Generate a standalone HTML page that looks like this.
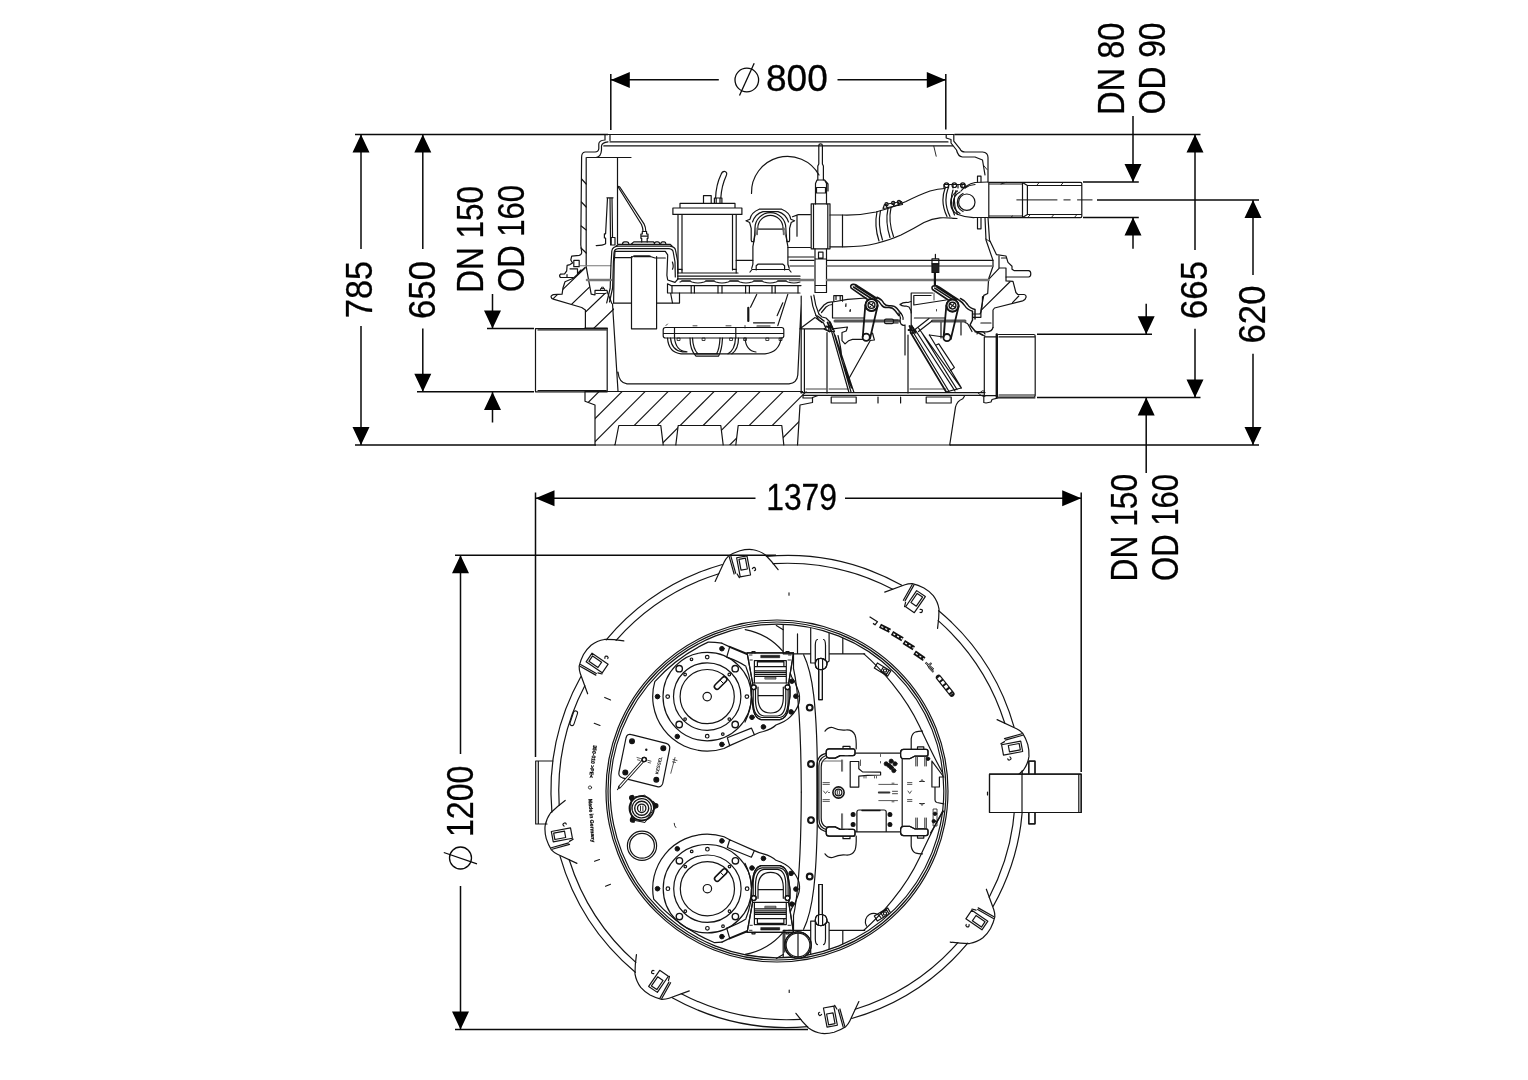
<!DOCTYPE html>
<html><head><meta charset="utf-8"><title>Drawing</title>
<style>
html,body{margin:0;padding:0;background:#fff;}
body{width:1528px;height:1080px;overflow:hidden;font-family:"Liberation Sans",sans-serif;}
svg{display:block;}
svg text{font-family:"Liberation Sans",sans-serif;fill:#000;}
.d{stroke:#0a0a0a;stroke-width:1.5;fill:none;}
.a{fill:#000;stroke:none;}
.g{stroke:#141414;stroke-width:1.2;fill:none;stroke-linejoin:round;stroke-linecap:round;}
.t{stroke:#000;stroke-width:.7;fill:none;stroke-linejoin:round;stroke-linecap:round;}
.w{fill:#fff;}
</style></head><body>
<svg width="1528" height="1080" viewBox="0 0 1528 1080">
<rect width="1528" height="1080" fill="#fff"/>
<g opacity="0.999">
<!-- ===== DIMENSIONS ===== -->
<g id="dims" class="d">
<!-- top / bottom reference lines of side view -->
<path d="M355 134.5H608 M954.5 134.5H1200.5 M355 445H596 M950 445H1259"/>
<!-- 785 -->
<path d="M361 134.5V249 M361 326V445"/>
<!-- 650 -->
<path d="M422.8 134.5V249 M422.8 328.5V391.8 M417 391.8H534"/>
<!-- DN150 left -->
<path d="M487 328.5H534 M492.5 294V328.5 M492.5 392V422.5"/>
<!-- dia 800 -->
<path d="M610.8 74V130 M945.8 74V129.5 M611 79.7H718.8 M837.5 79.7H945.5"/>
<!-- DN80 -->
<path d="M1083 182H1138.8 M1083 217.5H1138.8 M1133 116V182 M1133 217.5V248.8"/>
<path d="M1097 200H1259"/>
<!-- 665 -->
<path d="M1195 134.5V250 M1195 328.8V397.5"/>
<!-- 620 -->
<path d="M1253 200V275 M1253 353.8V445"/>
<!-- DN150 right -->
<path d="M1037 334.2H1152 M1037 397.5H1200.5 M1146.2 303.8V334 M1146.2 397.5V473"/>
<!-- 1379 -->
<path d="M535.5 492.5V757 M1081.2 492.5V772 M535.5 498.2H755.5 M845 498.2H1081"/>
<!-- dia 1200 -->
<path d="M455 555.2H776 M455 1029.5H808 M460.5 555.2V754 M460.5 886V1029.5"/>
</g>
<g id="arrows" class="a">
<!-- vertical arrows: tip up -->
<path d="M361 134.5l-8.5 18h17z M422.8 134.5l-8.5 18h17z M1195 134.5l-8.5 18h17z M1253 200l-8.5 18h17z M460.5 555.2l-8.5 18h17z"/>
<path d="M492.5 392l-8.5 18h17z M1133 217.5l-8.5 18h17z M1146.2 397.5l-8.5 18h17z"/>
<!-- tip down -->
<path d="M361 445l-8.5 -18h17z M422.8 391.8l-8.5 -18h17z M1195 397.5l-8.5 -18h17z M1253 445l-8.5 -18h17z M460.5 1029.5l-8.5 -18h17z"/>
<path d="M492.5 328.5l-8.5 -18h17z M1133 182l-8.5 -18h17z M1146.2 334.2l-8.5 -18h17z"/>
<!-- horizontal -->
<path d="M610.8 80l19 -8v16z M945.8 80l-19 -8v16z M535.5 498.2l19 -8v16z M1081.2 498.2l-19 -8v16z"/>
</g>
<g id="dimtext" font-size="36.7" stroke="#000" stroke-width=".3">
<text x="766" y="91.2" textLength="61.8" lengthAdjust="spacingAndGlyphs">800</text>
<text x="766.2" y="510" textLength="70.8" lengthAdjust="spacingAndGlyphs">1379</text>
<text transform="translate(371.8 318) rotate(-90)" textLength="57" lengthAdjust="spacingAndGlyphs">785</text>
<text transform="translate(434.6 319) rotate(-90)" textLength="58" lengthAdjust="spacingAndGlyphs">650</text>
<text transform="translate(482.5 292.8) rotate(-90)" textLength="106.8" lengthAdjust="spacingAndGlyphs">DN 150</text>
<text transform="translate(524.1 292) rotate(-90)" textLength="107" lengthAdjust="spacingAndGlyphs">OD 160</text>
<text transform="translate(1123.6 115) rotate(-90)" textLength="92.5" lengthAdjust="spacingAndGlyphs">DN 80</text>
<text transform="translate(1164.8 114.2) rotate(-90)" textLength="91.7" lengthAdjust="spacingAndGlyphs">OD 90</text>
<text transform="translate(1206.8 319) rotate(-90)" textLength="58" lengthAdjust="spacingAndGlyphs">665</text>
<text transform="translate(1265 343.5) rotate(-90)" textLength="58" lengthAdjust="spacingAndGlyphs">620</text>
<text transform="translate(1136.8 581.4) rotate(-90)" textLength="107.5" lengthAdjust="spacingAndGlyphs">DN 150</text>
<text transform="translate(1178 581) rotate(-90)" textLength="107" lengthAdjust="spacingAndGlyphs">OD 160</text>
<text transform="translate(472.5 837) rotate(-90)" textLength="71.5" lengthAdjust="spacingAndGlyphs">1200</text>
</g>
<g id="diasym" class="d" style="stroke-width:1.3">
<circle cx="746.8" cy="80" r="11.8"/><path d="M739.5 95.5L754.2 63.2"/>
<circle cx="460.5" cy="858" r="11"/><path d="M443.8 852.5L477 863.8"/>
</g>
<!-- ===== SIDE VIEW ===== -->
<defs>
<clipPath id="cpB"><path clip-rule="evenodd" d="M585 391.5V401.2L595 405V445H797.5L800 405L812.5 402.5V391.5Z M615 445L618.8 425.5H660.8L663.2 445Z M675.8 445L678.2 425.5H720.8L723.2 445Z M735.8 445L738.2 425.5H781.8L783.8 445Z"/></clipPath>
<clipPath id="cpL"><path d="M585 267.5L573.3 278.3L565 281.7L562.9 288.3L562.1 294.2L553.3 294.6L551.2 297.1L553.3 299.2L581.7 307.5L585.4 310V328.3H615L614 308L611.7 303.3L607 292.5L595 295L591.2 294.2L588.3 278.3L585.4 266.7Z"/></clipPath>
</defs>
<g id="sideA" class="g">
<!-- lid -->
<path d="M605 134.5H954 M610 141.9H948 M603.8 145.9H952.5"/>
<!-- left wall outer profile -->
<path d="M605 134.5V140Q599 140.5 598.8 143.8V148.8Q598.5 151.8 595 152H585Q581.6 152.3 581.6 157.5L580.8 245L581.7 252.5Q581.5 255 579.2 255.4L571.7 256.2L570.8 260L572.5 262.9L570 264.6L567.1 265.4L566.7 270.8L564.6 273.8L560.4 274.2Q558.8 275.8 560.4 277.5H573.3"/>
<path d="M573.8 260.4H579.2V266.7H573.8Z M570 268.8H577.5V273.5 M567 277.5V274.5 M577.5 273.5L581 270"/>
<path d="M585 267.5L573.3 278.3L565 281.7L562.9 288.3L562.1 294.2L553.3 294.6Q550.5 296 551.2 297.1Q551.5 298.8 553.3 299.2L581.7 307.5L585.4 310V328.3"/>
<path d="M610 134.5V140.5 M608 141.9Q602 142.5 601.5 146V150Q601 157 596 157.5"/>
<!-- inner wall -->
<path d="M586.2 157.5V266.7L588.3 278.3L591.2 294.2L595 295V290.4H607L607.5 292.5L611.7 303.3 M587 157.5H631 M617.5 157.5V244"/>
<path d="M580 265.8H610.8" stroke="#777" stroke-width="1.1"/>
<path d="M600.5 290.4V288.5H604.5V290.4 M601.5 288.5V287.2H603.5V288.5 M596 293.5H606" stroke-width=".9"/>
<!-- wall hatch ticks -->
<path d="M581.6 179L586.2 184 M581.4 202L586.2 207 M581.2 226L586.2 230 M581 248L586.2 253"/>
<!-- hanging bracket inside left wall -->
<path d="M606.9 197.8H613 M607.5 198L605.6 233.8H604.4V238H605.6V243.8Q603 245.6 596.2 245.6 M610 198L610.6 245 M612 198.8L612.5 233.8V237.5 M611.2 237.5H615V245H611.2Z"/>
<!-- left pipe stub -->
<path d="M535.5 328.6H607.2V391.8H535.5Z M538 330H606 M538 390.5H606" />
<path d="M585 328.2H607.2" stroke-width="1.6"/>
<!-- left flange hatch -->
<g clip-path="url(#cpL)">
<path d="M545 306.5L595 258.5 M553.7 321.5L609.2 268.1 M566 330.7L624 275.2 M574.2 347.1L634.2 289.5"/>
</g>
<!-- bottom block -->
<path d="M585 391.5V401.2L595 405V445 M797.5 445L800 405L812.5 402.5V397.5 M585 391.5H802.5"/>
<path d="M615 445L618.8 425.5H660.8L663.2 445 M675.8 445L678.2 425.5H720.8L723.2 445 M735.8 445L738.2 425.5H781.8L783.8 445"/>
<path d="M596 445H950"/>
<g clip-path="url(#cpB)">
<path d="M576.5 391.2L516.5 451.2"/><path d="M599.5 391.2L539.5 451.2"/><path d="M622.5 391.2L562.5 451.2"/><path d="M645.5 391.2L585.5 451.2"/><path d="M668.5 391.2L608.5 451.2"/><path d="M691.5 391.2L631.5 451.2"/><path d="M714.5 391.2L654.5 451.2"/><path d="M737.5 391.2L677.5 451.2"/><path d="M760.5 391.2L700.5 451.2"/><path d="M783.5 391.2L723.5 451.2"/><path d="M806.5 391.2L746.5 451.2"/><path d="M829.5 391.2L769.5 451.2"/><path d="M852.5 391.2L792.5 451.2"/><path d="M875.5 391.2L815.5 451.2"/>
</g>
<!-- right wall outer profile -->
<path d="M946.2 134.5H953.8V141.2L960 148.8Q961 152 965 152H982.5Q988 152.5 988 157.5V182"/>
<path d="M946.2 134.5V138L951 139.5V143L956.5 150Q958 156.5 962.5 157H975L982.5 160L985 175"/>
<path d="M977.5 182V176.2H981V182 M977.5 217.5V228.8H981V217.5"/>
<path d="M988 217.5L989.5 240L996.4 254.6L1006 256L1008 262.4L1012 266.3V269.2L1014 270.6H1028.5Q1030.8 270.6 1030.8 273.8Q1030.8 277 1028.5 277H1006V280.9L1013 281.3L1015.9 292.5L1017.8 294.5H1024Q1026.5 295 1026 297.4Q1025.5 300 1022.7 300.8L994.5 308L993 310V327.5"/>
<path d="M985 217.5L986 240L993 260.4V266.3L988.6 279L987.7 293.5L983.8 295.4L980.9 310V317.3H973"/>
<path d="M999.3 268.2L989.6 278.4 M1010 281.8L981.8 309.6 M1018.8 296L1012.5 302.7 M999 256V268H1006V277 M1001.5 258H1006"/>
<path d="M993 327.5Q992 331.5 987 331.8H975 M980.9 323H991"/>
<path d="M933.8 146.2L936.2 156.2 M983.8 165.6L987 169.5 M985.7 238.9L990.5 242" stroke-width=".9"/>
<!-- top right pipe -->
<path d="M988.8 182.4H1080.5Q1081.8 182.4 1081.8 183.7V216.3Q1081.8 217.6 1080.5 217.6H988.8Z M1022.5 182.4V217.6 M1022.5 182.4L1027.4 185.5V214.5L1022.5 217.6 M1027.4 185.5H1081.8 M1027.4 214.5H1081.8 M989 184H1022.5 M989 216H1022.5"/>
<path d="M1039.3 182.4L1036.6 185.5 M1063.4 182.4L1060.7 185.5 M1006 182.4L1001 184 M1030.4 214.5L1027.7 217.6 M1053.9 214.5L1051.3 217.6 M1077 214.5L1074.3 217.6 M1012.5 216L1010.5 217.6" stroke-width=".9"/>
<path d="M1016.8 199.9H1057 M1063.9 199.9H1070.2 M1077.5 199.9H1092.1" stroke-width="1"/>
<!-- lower right pipe -->
<path d="M998.5 334.5H1033.7Q1035.2 334.5 1035.2 336V395.5Q1035.2 397 1033.7 397H998.5 M984.3 336.9H996 M984.3 395.6H996 M984.3 336.9V395.6 M999 336.9H1035 M999 395H1035"/>
<path d="M996.8 334.5V397" stroke-width="2.4"/>
</g>
<g id="sideB" class="g">
<!-- pump housing (left box) -->
<path d="M606.7 302.9L610.2 288L611 264.3L611.8 251Q612.5 246.5 618.5 246.2H670Q675 246.8 675.5 250.2L677.5 260.4L677.9 278.5"/>
<path d="M609.5 302L612.6 288L613.4 262L614 253Q614.3 248.8 618.5 248.6H669Q672.8 249 673.2 252L675 262L675.3 277"/>
<path d="M615 251.4H665.3L667.7 254.9L666.9 275.4L667.7 280L675 282.4L678 279 M615 251.4L614.2 262L613.6 303"/>
<path d="M615 257.7H631L633.8 256H648.8L655 258H665.3"/>
<path d="M634.5 256.4H650" stroke-width="1.9"/>
<path d="M631.5 256.5V328.8H656.6V256.5"/>
<path d="M613.6 303.1H631 M657 303.1H679.5V293"/>
<path d="M672.4 262Q674 266.5 672.5 269.2"/>
<!-- bolts / dome on pump housing -->
<path d="M618.5 244.3H670 M631 244.3L633.8 241.9H653.5L655 244.3 M622.4 244.3Q622.6 242 624.5 241.9H627Q628.8 242 629 244.3 M654.3 244.3Q654.5 242 656 241.9H658Q659.6 242 659.8 244.3 M660.6 244.3Q660.8 242 662.3 241.9H664.3Q665.8 242 666 244.3 M616 246.2L618.5 244.3 M670 244.3L672 246"/>
<path d="M641.7 241.9V238.3H640.9V234H642.3V231.5H646.6V234H648V238.3H647.2V241.9 M640.9 236.2H648"/>
<!-- diagonal rod -->
<path d="M617.5 186L641.5 224.5Q643 228 643 231.2 M619.8 187L644 223.8Q645.8 227.5 645.8 231.2 M617.5 186L619.8 187"/>
<!-- motor / control box -->
<path d="M680 203.4H735V208H680Z M672.9 208H741.9V214.4H672.9Z M678 214.4V273 M736.2 214.4V273 M682 214.4V270 M732.5 214.4V270"/>
<path d="M703.5 203.4V195.6H711.2V203.4 M714.4 203.4V198H721.9V203.4 M716.2 198V203.4 M720 198V203.4"/>
<path d="M715.6 198Q716 185 721 174.5Q722.3 171 725 171.5Q727.6 172.5 726.3 175.5Q721.5 186 720.8 198"/>
<path d="M677.5 273H738 M678 269.4H682V273 M732.5 269.4H736.2"/>
<!-- platform -->
<path d="M677.5 276.2H800 M677.5 278.8H800 M671.2 285.6H801 M667.5 293H800 M667.5 283.8V293 M670.6 293L672.5 303 M667.5 283.8L671.2 285.6"/>
<path d="M680 282Q686 279.5 692 282Q698 284 704 282Q710 279.5 716 282Q722 284 728 282Q734 279.5 740 282Q746 284 752 282Q758 279.5 764 282Q770 284 776 282Q782 279.5 788 282Q794 284 800 282"/>
<path d="M672 285.6V293 M691.2 285.6V293 M694.4 285.6V293 M718 285.6V293 M722 285.6V293 M745.6 285.6V293 M749.4 285.6V293 M772 285.6V293 M775.2 285.6V293 M798 285.6V293"/>
<path d="M682 281H690 M706 281H714 M730 281H738 M754 281H762 M778 281H786" stroke-width="1.8" stroke="#444"/>
<!-- arch clamp -->
<path d="M746.2 220.8L750 219.2Q751 212.5 759.2 209.2H781.7Q790 212.5 790.8 219.2L794.6 220.8L791.2 222.5L789.6 228.3V240L789.2 241.7H787L786.2 235"/>
<path d="M746.2 220.8L749.6 222.5L751.2 228.3V240L751.7 241.7H753.8L754.6 235"/>
<path d="M754.6 235L755 228A15.4 15.4 0 0 1 785.8 228L786.2 235"/>
<path d="M757 234.2L757.8 228A12.6 12.6 0 0 1 783 228L783.8 234.2"/>
<path d="M752.5 222Q755 214 763 211.6H778Q786 214 788.5 222"/>
<path d="M755 235L752.9 246.7V264.2L751.7 268.3 M785.8 235L787.9 246.7V264.2L789.2 268.3"/>
<path d="M757.9 229.2H783.8" stroke="#555" stroke-width="1.8"/>
<path d="M755.5 228V235 M757.3 228V234.5 M785.3 228V235 M783.5 228V234.5" stroke="#666" stroke-width="1.4"/>
<path d="M756.2 270V265.8L757.9 264.2H782.9L784.6 265.8V270 M750 272L752 269.5H789L791 272"/>
<!-- big arc -->
<path d="M751.5 193.5A36 36 0 0 1 819 175"/>
<!-- pipe from arch to valve -->
<path d="M736.2 260.3H752.9 M792.5 216.7L798.3 214.6H810.4 M797 215.8V236.2 M787.9 247.5H810.4 M788.3 257H813.8"/>
<!-- valve -->
<path d="M818.8 145.5Q818.8 143.8 820.6 143.8Q822.4 143.8 822.4 145.5V164L823.4 166V180 M818.8 145.5V164L817.8 166V180"/>
<path d="M815.5 204V183.5L817 180H824.5L826.5 183.5V204 M816.5 187.5H825.5V193H816.5Z M824.5 180L828 184V191"/>
<path d="M811.2 203.8H830V248.8H811.2Z M813.5 203.8V248.8 M827.8 203.8V248.8"/>
<path d="M815 248.8V292.5 M826.5 248.8V292.5 M815 259H826.5 M818.5 252.2H823V258H818.5Z M815 285.5H826.5 M815 292.5H826.5"/>
<!-- flange after valve -->
<path d="M830 215H842.5V246.8H830"/>
<!-- sump -->
<path d="M612.5 303.8L618 391 M618 372Q619 383 627 383.8H789Q797 383 797.8 375L801.2 303.8 M801.2 296V328"/>
<!-- lower pump flange and bowl -->
<path d="M665.5 327.5H781.5Q783.8 327.5 783.8 329.8V335.8Q783.8 338 781.5 338H665.5Q663.2 338 663.2 335.8V329.8Q663.2 327.5 665.5 327.5Z M674.5 327.5V338 M735.8 327.5V338 M663.2 333.5H783.8" />
<path d="M667.5 338Q668.5 352.5 681 353.8H765Q779 352.5 781.2 338"/>
<path d="M670.5 338Q671.5 350.5 682.5 351.8H687"/>
<path d="M674.5 338Q676 351 686 351.5 M690 338Q690 350 696 356.2H718.5Q722 350 722.5 338 M692.5 338Q693 349 698 354H716.5Q719.5 349 720 338 M735.5 338Q735 350 728 353.8 M738.5 338Q738.5 349 732 353.8 M745 338Q746 351 756 352 M696 353.8H718"/>
<path d="M677.5 338H680V340.5H677.5Z M702.5 338H705V340.5H702.5Z M730 338H732.5V340.5H730Z M744 338H746.5V340.5H744Z M766.2 338H768.8V340.5H766.2Z M779.5 338H782V340.5H779.5Z" stroke-width=".8"/>
<!-- funnel lines -->
<path d="M756.7 294.4L750.5 307.2 M787.8 294.4L777.8 325.6 M782.8 302.8L777.2 315.6 M753.5 322.8H774.5 M757 326H770"/>
<path d="M748.3 307.8V321" stroke-width="2.2"/>
<path d="M666 325.5L667.5 324 M693 325.8H697 M726 325.8H731 M745 325.5V328" stroke-width=".8"/>
</g>
<g id="sideC" class="g">
<!-- long horizontal lines -->
<path d="M790 260.3H814 M827 260.3H993"/>
<path d="M790 266H814 M827 266H993" stroke="#666" stroke-width="1.5"/>
<path d="M790 280H814 M827 280H988.6 M587 280H611" stroke="#777" stroke-width="2.6"/>
<!-- hose -->
<path d="M842.5 215Q860 215.5 876 212Q892 208 906 201.5Q920 194.5 930 191Q938 188.8 945 188.5"/>
<path d="M842.5 246.8Q862 247 876 243.5Q890 240 901 235Q914 228.5 924 222.5Q932 218.5 940 217.8Q946 217.5 957 218.5"/>
<!-- clamp 1 -->
<path d="M877 211.5Q874 226 879 241 M880.5 210.5Q877.5 225 882.5 240 M888 208.5Q885 222 890 237.5 M891 207.5Q888 221 893.5 236.5"/>
<path d="M883 208.5L884.5 204.5L901.5 201.5L902.5 204.5Z M886 204L887 208 M893 203L894 206.5 M898 202L899 205.5"/>
<circle cx="886.5" cy="204.2" r="1.6"/><circle cx="893.2" cy="203" r="1.6"/><circle cx="899" cy="202" r="1.6"/>
<!-- clamp 2 / elbow -->
<path d="M945 188.5Q940 202 947 216.5 M948 188.5Q943 202 950 216.5 M953 190Q949 202 954.5 215 M956 190.5Q952 202 957.5 214.5"/>
<path d="M944 188V184.5H965V188 M948.5 184.5V188 M953 184.5V188 M958 184.5V188 M962 184.5V188"/>
<circle cx="946.5" cy="185.2" r="2.3"/><circle cx="954.3" cy="185.2" r="2.3"/><circle cx="962.8" cy="185.2" r="2.3"/>
<circle cx="966.8" cy="202.2" r="8.2"/>
<path d="M963 193.5A10 10 0 0 0 963 211.5 M960 192A12 12 0 0 0 960 213.5 M957.5 191A13.5 13.5 0 0 0 957.5 214.5"/>
<path d="M961 191Q966 184.5 975 182.5L988 182 M958 214.5Q966 217.8 975 217.5H988 M965 188Q969 185 975 184.5"/>
<!-- sensor -->
<path d="M935.4 254.4V258.8 M932 258.8H938.8V263.8H932Z M935.4 272.5V286 M934.4 272.5V286"/>
<path d="M932 263.8H938.8V272.5H932Z" fill="#222"/>
<!-- backflow housing left part -->
<path d="M813.8 295Q815 305 818.8 313.8 M811 296Q812 306 816 315.5 M800 328.8L815 317.5 M800 328.8H825 M801.2 328.8V393 M804.4 328.8V393 M827 332.5V393"/>
<path d="M818.8 313.8L822 317L826 318L830.5 322.5L833 329 M816 315.5L819 320L823.5 323L826 328.8"/>
<path d="M819 311L824 305Q828 301.5 832.5 302 M821.5 312.5L826 307Q829 304.5 832.5 304.5"/>
<!-- housing 1 -->
<path d="M833.8 301.2V295.6H842.5V301.2 M836 295.6V299.5 M840.2 295.6V299.5"/>
<path d="M832.5 302L847.5 299.4L866.2 298 M832.5 302V318H864"/><path d="M835 320.9H899" stroke="#555" stroke-width="3"/>
<path d="M846 303.5V305 M850.5 309.5V311" stroke-width=".8"/>
<!-- locking arm 1 -->
<path stroke-width="1.6" d="M851.2 288.2Q849.6 285 853 284.4Q855.5 284 857.5 285.8L877 298.5 M851.2 288.2L869 300.5 M853.5 287L872 299 M855.5 285.8L874.5 298.2"/>
<!-- cover wavy 1 -->
<path stroke-width="1.5" d="M875 298.8Q879.5 301 881.5 305Q883.5 308 888 307.5Q892.5 307 895 310.5L898.8 315.5 M877 297.2Q882 299.5 884 303.5Q886 306.2 890 305.8Q894.5 305.5 897 308.5L901 313.5"/>
<!-- lever 1 -->
<circle cx="871.5" cy="305" r="6.2" class="w"/>
<path d="M865.3 305.5L862.8 336.5 M877.6 306L870 338.5" stroke-width="1.8"/>
<circle cx="871.5" cy="305" r="6" stroke-width="2"/><circle cx="871.5" cy="305" r="3.4" stroke-width="1.4"/>
<path d="M868.5 303L874.5 307 M869.5 307.5L873.5 302.5"/>
<circle cx="866.2" cy="337.2" r="3.6" stroke-width="1.8"/>
<!-- curvy shape under housing 1 -->
<path d="M832.5 328.8L847.5 327L846.2 331L842 332.5V340.6L845 343.8Q848.5 340 852.5 339.4H862.5 M870 340.5L874.4 340L872.5 333"/>
<path d="M870 341L848.8 378.8"/>
<!-- flap 1 -->
<path d="M831.2 330L848.8 392 M833.5 331.5L851 392 M835 335L853.8 392 M838 335.5Q841 348 841.5 355Q841 360 843.5 365L851.5 388"/>
<path d="M828.5 326.5Q830 324.5 832 326.5L834.5 331.5H829Z"/>
<path d="M827.5 322.5L831 330.5 M829.5 322L833 329.5 M826 326.5L831.5 327.5 M824.5 329L829.5 331.5" stroke-width="1.8"/>
<path d="M909.5 326L913 333 M911.5 325.5L915 332 M908.5 330L913.5 330.5" stroke-width="1.8"/>
<path d="M816 318L822 322.5 M817.5 316L824 321" stroke-width="1.5"/>
<path d="M845.8 304.8V306.5 M850 310V311.5" stroke-width="1.2"/>
<!-- middle junction -->
<path d="M898.8 313L900.5 318Q899.5 321 901 324Q903 326 905 325 M901 313.5Q903.5 316 903 319.5 M905 325V355 M908 335V393"/>
<path d="M884.5 320.8Q884.5 319.2 886 319.2H892Q893.5 319.2 893.5 320.8V322Q893.5 323.6 892 323.6H886Q884.5 323.6 884.5 322Z M893.5 320H898 M893.5 323H898" />
<!-- housing 2 -->
<path d="M911.2 293H932.5 M911.2 293V328.8 M913.8 295.5H931 M913.8 295.5V305L946.2 300 M914.4 318H945"/><path d="M932.5 320.9H965" stroke="#555" stroke-width="3"/>
<path d="M900 304.5Q903 302 908 302.5L911 301.5 M900 304.5Q902 306.5 906 306L909 307Q911.5 311 911.2 313"/>
<path d="M934 293V300 M936.5 309.5V311" stroke-width=".8"/>
<!-- locking arm 2 -->
<path stroke-width="1.6" d="M932.5 289.5Q931 286.3 934.3 285.7Q937 285.3 939 287L958 299.5 M932.5 289.5L950.5 301.5 M934.8 288.2L953.5 300.2 M936.8 287L956 299.5"/>
<!-- lever 2 -->
<circle cx="952.5" cy="305.6" r="6.2" class="w"/>
<path d="M946.3 306L943.6 337 M958.6 306.5L950.8 339" stroke-width="1.8"/>
<circle cx="952.5" cy="305.6" r="6" stroke-width="2"/><circle cx="952.5" cy="305.6" r="3.4" stroke-width="1.4"/>
<path d="M949.5 303.6L955.5 307.6 M950.5 308L954.5 303"/>
<circle cx="947" cy="337.6" r="3.6" stroke-width="1.8"/>
<!-- cover wavy 2 -->
<path stroke-width="1.5" d="M958.8 300Q963 302.5 965 306Q967 309.5 972.5 311.2V320L970 325L975 331L982.5 335 M960.5 298.5Q965 300.5 967.5 304.5Q969.5 308 975 309.5V319"/>
<path d="M972.5 314H980Q982.5 311 982.5 296.5 M965 322.5Q968 323 969 326L972 331.5"/>
<!-- flap 2 (open) -->
<path d="M910.6 332.5L946.2 392" stroke-width="1.7"/>
<path d="M913 332L949 391.5 M915 329.5L955 391 M918.5 328L961.2 388 M929.4 335L961.2 387.5 M922 333L957 389.5"/>
<path d="M915 329.5L929 318.5 M918.5 331.5L932 321 M929.4 335L943.6 337"/>
<path d="M936.2 345L938.8 343.8L954.4 367.5L950.6 370.6 M946.2 392L961.2 388"/>
<path d="M910 328Q911.5 326 913.5 328L916 333H910.5Z"/>
<!-- verticals right of lever 2 -->
<path d="M941 322.5V338 M944.5 322.5V333 M961 322.5V335"/>
<!-- bottom of valve body -->
<path d="M801 392.6H985 M803 395.4H984 M831.2 397H856.2V403H831.2Z M926.2 397H951.2V403H926.2Z M878 397V403 M900.6 397V403 M812.5 397.5L818 395.5 M803 395V398H812"/>
<path d="M910 389H946 M806 389H826 M829 389H848" stroke-width=".8"/>
<path d="M978 393L982 396L985 396.5 M984.5 391Q982 390 980.5 392" stroke-width=".9"/>
<!-- right side lower connection -->
<path d="M949.7 445L955.5 407.2Q957 401 962.8 398.8L964.4 396.2 M983.8 395.7V402.5L986 403L991 402L992 399.5L998.4 397.8H1035"/>
<path d="M985 334Q984 331.5 981.5 331.5H978L977 334 M982.5 335L985 336"/>
</g>
<!-- ===== TOP VIEW ===== -->
<g id="topA" class="g">
<path d="M766.4 556.4A236 236 0 0 1 901.8 585.3"/><path d="M773.1 563.7A228.2 228.2 0 0 1 892.7 589.3"/><path d="M938.7 610.7A236 236 0 0 1 1014.0 726.8"/><path d="M938.2 620.6A228.2 228.2 0 0 1 1004.8 723.3"/><path d="M1022.1 770.9A236 236 0 0 1 993.2 906.3"/><path d="M1014.8 777.6A228.2 228.2 0 0 1 989.2 897.2"/><path d="M967.8 943.2A236 236 0 0 1 851.7 1018.5"/><path d="M957.9 942.7A228.2 228.2 0 0 1 855.2 1009.3"/><path d="M807.6 1026.6A236 236 0 0 1 672.2 997.7"/><path d="M800.9 1019.3A228.2 228.2 0 0 1 681.3 993.7"/><path d="M635.3 972.3A236 236 0 0 1 560.0 856.2"/><path d="M635.8 962.4A228.2 228.2 0 0 1 569.2 859.7"/><path d="M551.9 812.1A236 236 0 0 1 580.8 676.7"/><path d="M559.2 805.4A228.2 228.2 0 0 1 584.8 685.8"/><path d="M606.2 639.8A236 236 0 0 1 722.3 564.5"/><path d="M616.1 640.3A228.2 228.2 0 0 1 718.8 573.7"/>
<g transform="translate(787 791.5) rotate(-10.6)"><path d="M-32 -219.7L-19.5 -237.2Q-17.6 -239.9 -14 -242.3Q-8.5 -244.5 -2 -245.3Q4.3 -245.8 10 -244.3Q17 -242 22.35 -236.45Q27.5 -229 32.05 -219.7"/>
<path d="M-13.6 -241.5L-12 -223.5 M-11.9 -242L-10.3 -224" stroke-width="1.2"/>
<path d="M-6.5 -239H4V-219.5H-6.5Z M-4.5 -237H2V-226H-4.5Z M-9 -223L-7.5 -219 M7 -225.5Q9.5 -227.5 10 -224.5Q10 -223 8.5 -223"/></g>
<g transform="translate(787 791.5) rotate(34.4)"><path d="M-32 -219.7L-19.5 -237.2Q-17.6 -239.9 -14 -242.3Q-8.5 -244.5 -2 -245.3Q4.3 -245.8 10 -244.3Q17 -242 22.35 -236.45Q27.5 -229 32.05 -219.7"/>
<path d="M-13.6 -241.5L-12 -223.5 M-11.9 -242L-10.3 -224" stroke-width="1.2"/>
<path d="M-6.5 -239H4V-219.5H-6.5Z M-4.5 -237H2V-226H-4.5Z M-9 -223L-7.5 -219 M7 -225.5Q9.5 -227.5 10 -224.5Q10 -223 8.5 -223"/></g>
<g transform="translate(787 791.5) rotate(79.4)"><path d="M-32 -219.7L-19.5 -237.2Q-17.6 -239.9 -14 -242.3Q-8.5 -244.5 -2 -245.3Q4.3 -245.8 10 -244.3Q17 -242 22.35 -236.45Q27.5 -229 32.05 -219.7"/>
<path d="M-13.6 -241.5L-12 -223.5 M-11.9 -242L-10.3 -224" stroke-width="1.2"/>
<path d="M-6.5 -239H4V-219.5H-6.5Z M-4.5 -237H2V-226H-4.5Z M-9 -223L-7.5 -219 M7 -225.5Q9.5 -227.5 10 -224.5Q10 -223 8.5 -223"/></g>
<g transform="translate(787 791.5) rotate(124.4)"><path d="M-32 -219.7L-19.5 -237.2Q-17.6 -239.9 -14 -242.3Q-8.5 -244.5 -2 -245.3Q4.3 -245.8 10 -244.3Q17 -242 22.35 -236.45Q27.5 -229 32.05 -219.7"/>
<path d="M-13.6 -241.5L-12 -223.5 M-11.9 -242L-10.3 -224" stroke-width="1.2"/>
<path d="M-6.5 -239H4V-219.5H-6.5Z M-4.5 -237H2V-226H-4.5Z M-9 -223L-7.5 -219 M7 -225.5Q9.5 -227.5 10 -224.5Q10 -223 8.5 -223"/></g>
<g transform="translate(787 791.5) rotate(169.4)"><path d="M-32 -219.7L-19.5 -237.2Q-17.6 -239.9 -14 -242.3Q-8.5 -244.5 -2 -245.3Q4.3 -245.8 10 -244.3Q17 -242 22.35 -236.45Q27.5 -229 32.05 -219.7"/>
<path d="M-13.6 -241.5L-12 -223.5 M-11.9 -242L-10.3 -224" stroke-width="1.2"/>
<path d="M-6.5 -239H4V-219.5H-6.5Z M-4.5 -237H2V-226H-4.5Z M-9 -223L-7.5 -219 M7 -225.5Q9.5 -227.5 10 -224.5Q10 -223 8.5 -223"/></g>
<g transform="translate(787 791.5) rotate(214.4)"><path d="M-32 -219.7L-19.5 -237.2Q-17.6 -239.9 -14 -242.3Q-8.5 -244.5 -2 -245.3Q4.3 -245.8 10 -244.3Q17 -242 22.35 -236.45Q27.5 -229 32.05 -219.7"/>
<path d="M-13.6 -241.5L-12 -223.5 M-11.9 -242L-10.3 -224" stroke-width="1.2"/>
<path d="M-6.5 -239H4V-219.5H-6.5Z M-4.5 -237H2V-226H-4.5Z M-9 -223L-7.5 -219 M7 -225.5Q9.5 -227.5 10 -224.5Q10 -223 8.5 -223"/></g>
<g transform="translate(787 791.5) rotate(259.4)"><path d="M-32 -219.7L-19.5 -237.2Q-17.6 -239.9 -14 -242.3Q-8.5 -244.5 -2 -245.3Q4.3 -245.8 10 -244.3Q17 -242 22.35 -236.45Q27.5 -229 32.05 -219.7"/>
<path d="M-13.6 -241.5L-12 -223.5 M-11.9 -242L-10.3 -224" stroke-width="1.2"/>
<path d="M-6.5 -239H4V-219.5H-6.5Z M-4.5 -237H2V-226H-4.5Z M-9 -223L-7.5 -219 M7 -225.5Q9.5 -227.5 10 -224.5Q10 -223 8.5 -223"/></g>
<g transform="translate(787 791.5) rotate(304.4)"><path d="M-32 -219.7L-19.5 -237.2Q-17.6 -239.9 -14 -242.3Q-8.5 -244.5 -2 -245.3Q4.3 -245.8 10 -244.3Q17 -242 22.35 -236.45Q27.5 -229 32.05 -219.7"/>
<path d="M-13.6 -241.5L-12 -223.5 M-11.9 -242L-10.3 -224" stroke-width="1.2"/>
<path d="M-6.5 -239H4V-219.5H-6.5Z M-4.5 -237H2V-226H-4.5Z M-9 -223L-7.5 -219 M7 -225.5Q9.5 -227.5 10 -224.5Q10 -223 8.5 -223"/></g>
<circle cx="777" cy="791" r="171"/><circle cx="777" cy="791" r="169"/><circle cx="777" cy="791" r="166.8"/>
</g>
<g id="topB" class="g">
<g>
<path d="M721.9 643.2Q714 642 708.2 642.1A164 164 0 0 0 654.8 681.6A54.5 54.5 0 0 0 707.2 751.1Q716 751 724 748.5L729.7 745.6"/>
<path d="M729.7 646.9L747.1 654" stroke-width="2"/><path d="M726.7 657.1L729.7 646.9 M726.7 657.1Q738 661 745.9 666.2 M721.9 643.2L729.7 646.9"/>
<path d="M727.3 737.8L751.4 728.1 M729.7 745.6L754.4 734.7 M727.3 737.8L729.7 745.6 M751.4 728.1L754.4 734.7"/>
<path d="M754.4 734.7Q760 732 763.4 731.5Q772 729 776 725Q786 721.5 790.5 716.7Q797 710 799 703Q800.5 696 798 690Q796 683 791.7 677L789 670"/>
<path d="M746 667Q752 682 751.5 697Q751 710 745 722"/>
<circle cx="721.9" cy="648.7" r="2.3" fill="#111" stroke-width="1"/><circle cx="657.5" cy="696.6" r="2.3" fill="#111" stroke-width="1"/><circle cx="677.3" cy="736.5" r="2.3" fill="#111" stroke-width="1"/><circle cx="721.9" cy="744.4" r="2.3" fill="#111" stroke-width="1"/><circle cx="752" cy="717.3" r="2.3" fill="#111" stroke-width="1"/><circle cx="763.4" cy="726.9" r="2.3" fill="#111" stroke-width="1"/><circle cx="791.1" cy="711.9" r="2.3" fill="#111" stroke-width="1"/><circle cx="795.9" cy="696.2" r="2.3" fill="#111" stroke-width="1"/><circle cx="791.9" cy="681.2" r="2.3" fill="#111" stroke-width="1"/>
<path class="w" d="M747.1 652.9H793.5L788.7 683Q790.5 690 790 696L788 710Q786.5 718 780 719.7H761Q755 718 753.4 710L751.5 696Q751 690 752.6 683Z"/>
<path d="M747.1 652.9H793.5L788.7 683Q790.5 690 790 696L788 710Q786.5 718 780 719.7H761Q755 718 753.4 710L751.5 696Q751 690 752.6 683Z"/>
<path d="M752 652.9V651.5H755V652.9 M786 652.9V651.5H789V652.9"/>
<path d="M761 655.3H779.7V657.7H761Z" fill="#222" stroke-width=".6"/>
<path d="M749.5 655H752 M749.8 660H752.3 M788.5 655H791 M788 660H790.5" stroke-width=".9"/>
<path d="M754.4 683V660.7H786.3V683 M757.4 661.9H783.9V666.7H757.4Z M754.4 666.7H786.3 M754.4 670.9H786.3 M754.4 672.7H786.3 M754.4 674.5H786.3 M754.4 676.4H786.3"/>
<path d="M765.2 677.2H776V679.1H765.2Z" fill="#999" stroke-width=".6"/>
<path d="M753.2 686V702Q753.5 716.5 762 717.5H779.5Q787.5 716.5 788.1 702V686"/>
<path d="M758 687V698.5Q758.5 713 770.6 713Q782.8 713 783.3 698.5V687 M758.2 695.6H783.1"/>
<path d="M755.5 688V701Q756 715 764 716H777.5Q785.5 715 785.8 701V688"/>
<circle cx="753.8" cy="687.2" r="2.4" class="w"/><circle cx="753.8" cy="687.2" r="2.4"/>
<circle cx="787.5" cy="687.2" r="2.4" class="w"/><circle cx="787.5" cy="687.2" r="2.4"/>
<path d="M752.6 683H788.7"/>
</g>
<g transform="translate(0 1585.3) scale(1 -1)">
<path d="M721.9 643.2L714.7 642.6A164 164 0 0 0 653.7 686.2A54.5 54.5 0 0 0 707.2 751.1Q716 751 724 748.5L729.7 745.6"/>
<path d="M729.7 646.9L747.1 654" stroke-width="2"/><path d="M726.7 657.1L729.7 646.9 M726.7 657.1Q738 661 745.9 666.2 M721.9 643.2L729.7 646.9"/>
<path d="M727.3 737.8L751.4 728.1 M729.7 745.6L754.4 734.7 M727.3 737.8L729.7 745.6 M751.4 728.1L754.4 734.7"/>
<path d="M754.4 734.7Q760 732 763.4 731.5Q772 729 776 725Q786 721.5 790.5 716.7Q797 710 799 703Q800.5 696 798 690Q796 683 791.7 677L789 670"/>
<path d="M746 667Q752 682 751.5 697Q751 710 745 722"/>
<circle cx="721.9" cy="648.7" r="2.3" fill="#111" stroke-width="1"/><circle cx="657.5" cy="696.6" r="2.3" fill="#111" stroke-width="1"/><circle cx="677.3" cy="736.5" r="2.3" fill="#111" stroke-width="1"/><circle cx="721.9" cy="744.4" r="2.3" fill="#111" stroke-width="1"/><circle cx="752" cy="717.3" r="2.3" fill="#111" stroke-width="1"/><circle cx="763.4" cy="726.9" r="2.3" fill="#111" stroke-width="1"/><circle cx="791.1" cy="711.9" r="2.3" fill="#111" stroke-width="1"/><circle cx="795.9" cy="696.2" r="2.3" fill="#111" stroke-width="1"/><circle cx="791.9" cy="681.2" r="2.3" fill="#111" stroke-width="1"/>
<path class="w" d="M747.1 652.9H793.5L788.7 683Q790.5 690 790 696L788 710Q786.5 718 780 719.7H761Q755 718 753.4 710L751.5 696Q751 690 752.6 683Z"/>
<path d="M747.1 652.9H793.5L788.7 683Q790.5 690 790 696L788 710Q786.5 718 780 719.7H761Q755 718 753.4 710L751.5 696Q751 690 752.6 683Z"/>
<path d="M752 652.9V651.5H755V652.9 M786 652.9V651.5H789V652.9"/>
<path d="M761 655.3H779.7V657.7H761Z" fill="#222" stroke-width=".6"/>
<path d="M749.5 655H752 M749.8 660H752.3 M788.5 655H791 M788 660H790.5" stroke-width=".9"/>
<path d="M754.4 683V660.7H786.3V683 M757.4 661.9H783.9V666.7H757.4Z M754.4 666.7H786.3 M754.4 670.9H786.3 M754.4 672.7H786.3 M754.4 674.5H786.3 M754.4 676.4H786.3"/>
<path d="M765.2 677.2H776V679.1H765.2Z" fill="#999" stroke-width=".6"/>
<path d="M753.2 686V702Q753.5 716.5 762 717.5H779.5Q787.5 716.5 788.1 702V686"/>
<path d="M758 687V698.5Q758.5 713 770.6 713Q782.8 713 783.3 698.5V687 M758.2 695.6H783.1"/>
<path d="M755.5 688V701Q756 715 764 716H777.5Q785.5 715 785.8 701V688"/>
<circle cx="753.8" cy="687.2" r="2.4" class="w"/><circle cx="753.8" cy="687.2" r="2.4"/>
<circle cx="787.5" cy="687.2" r="2.4" class="w"/><circle cx="787.5" cy="687.2" r="2.4"/>
<path d="M752.6 683H788.7"/>
</g>
<circle cx="707.2" cy="696.6" r="4.2"/><circle cx="707.2" cy="696.6" r="27.1"/><circle cx="707.2" cy="696.6" r="33.7"/><circle cx="707.2" cy="696.6" r="44.2"/><circle cx="679.2" cy="668.7" r="3.2" stroke-width="1.4"/><circle cx="735.2" cy="668.7" r="3.2" stroke-width="1.4"/><circle cx="679.2" cy="724.5" r="3.2" stroke-width="1.4"/><circle cx="735.2" cy="724.5" r="3.2" stroke-width="1.4"/><circle cx="707.2" cy="657.1" r="1.8"/><circle cx="667.7" cy="696.6" r="1.8"/><circle cx="746.9" cy="696.6" r="1.8"/><circle cx="707.2" cy="736.2" r="1.8"/><circle cx="691.5" cy="659.3" r="1.3" stroke-width="1.2"/><circle cx="685.1" cy="674.5" r="1.3" stroke-width="1.2"/><circle cx="729.3" cy="674.5" r="1.3" stroke-width="1.2"/><circle cx="685.1" cy="719.1" r="1.3" stroke-width="1.2"/><circle cx="729.3" cy="719.1" r="1.3" stroke-width="1.2"/><circle cx="722.8" cy="734.1" r="1.3" stroke-width="1.2"/><path d="M717.0 686.6L724.3 679.4" stroke-width="6.8" stroke="#111"/><path d="M717.0 686.6L724.3 679.4" stroke-width="3.6" stroke="#fff"/><path d="M720.4 680.4L723.4 683.4" stroke-width="1"/>
<circle cx="707.4" cy="888.7" r="4.2"/><circle cx="707.4" cy="888.7" r="27.1"/><circle cx="707.4" cy="888.7" r="33.7"/><circle cx="707.4" cy="888.7" r="44.2"/><circle cx="679.4" cy="860.8" r="3.2" stroke-width="1.4"/><circle cx="735.4" cy="860.8" r="3.2" stroke-width="1.4"/><circle cx="679.4" cy="916.6" r="3.2" stroke-width="1.4"/><circle cx="735.4" cy="916.6" r="3.2" stroke-width="1.4"/><circle cx="707.4" cy="849.2" r="1.8"/><circle cx="667.9" cy="888.7" r="1.8"/><circle cx="747.1" cy="888.7" r="1.8"/><circle cx="707.4" cy="928.3" r="1.8"/><circle cx="691.7" cy="851.4" r="1.3" stroke-width="1.2"/><circle cx="685.3" cy="866.6" r="1.3" stroke-width="1.2"/><circle cx="729.5" cy="866.6" r="1.3" stroke-width="1.2"/><circle cx="685.3" cy="911.2" r="1.3" stroke-width="1.2"/><circle cx="729.5" cy="911.2" r="1.3" stroke-width="1.2"/><circle cx="723.0" cy="926.2" r="1.3" stroke-width="1.2"/><path d="M717.2 878.7L724.5 871.5" stroke-width="6.8" stroke="#111"/><path d="M717.2 878.7L724.5 871.5" stroke-width="3.6" stroke="#fff"/><path d="M720.6 872.5L723.6 875.5" stroke-width="1"/>
</g>
<g id="topC" class="g">
<defs><clipPath id="cpIn"><circle cx="777" cy="791" r="166.6"/></clipPath></defs>
<g clip-path="url(#cpIn)"><g>
<path d="M783.2 621.6V653.8H810.7 M797.5 633.9V653.8 M810.7 623.5V663H815 M829.1 626.5V661L826.5 663 M829.1 653.8H842.8V631 M842.8 653.8H864.7"/>
<path d="M815.3 663V645Q815.5 639.5 817.5 639.5 M825.5 660V645Q825.3 639.5 823.5 639.5"/>
<path d="M803.6 654.8C812 672 817.5 700 817.6 792.05"/>
<path d="M793.4 668C797 684 801 710 801.3 792.05 M793.5 653V668"/>
<path class="w" d="M818.7 669V699.6H822.4V669Z"/>
<path d="M818.7 669V699.6H822.4V669"/>
<path class="w" d="M815.3 664Q815.3 658.4 820.9 658.4Q824 658.4 825.2 660.2Q827.2 661 827 664Q826.5 669.6 820.9 669.6Q815.3 669.6 815.3 664Z"/>
<path d="M815.3 664Q815.3 658.4 820.9 658.4Q824 658.4 825.2 660.2Q827.2 661 827 664Q826.5 669.6 820.9 669.6Q815.3 669.6 815.3 664Z M818.5 659V669.4 M822.6 659V669.4"/>
<circle cx="809.7" cy="707.6" r="2.9" stroke-width="2.1"/>
<circle cx="811" cy="764" r="2.9" stroke-width="2.1"/>
<path d="M877.4 663L890.7 671.1L887.6 676.2L874.3 668.1Z M883.5 666.8L889 670.2L886.5 674.4L881 671Z"/><circle cx="885" cy="670.6" r="1.6"/>
<path d="M863.9 653.9C880 668 905 695 919.4 726.1S938 765 944.4 776.1"/>
</g>
<g transform="translate(0 1584.1) scale(1 -1)">
<path d="M783.2 621.6V653.8H810.7 M797.5 633.9V653.8 M810.7 623.5V663H815 M829.1 626.5V661L826.5 663 M829.1 653.8H842.8V631 M842.8 653.8H864.7"/>
<path d="M815.3 663V645Q815.5 639.5 817.5 639.5 M825.5 660V645Q825.3 639.5 823.5 639.5"/>
<path d="M803.6 654.8C812 672 817.5 700 817.6 792.05"/>
<path d="M793.4 668C797 684 801 710 801.3 792.05 M793.5 653V668"/>
<path class="w" d="M818.7 669V699.6H822.4V669Z"/>
<path d="M818.7 669V699.6H822.4V669"/>
<path class="w" d="M815.3 664Q815.3 658.4 820.9 658.4Q824 658.4 825.2 660.2Q827.2 661 827 664Q826.5 669.6 820.9 669.6Q815.3 669.6 815.3 664Z"/>
<path d="M815.3 664Q815.3 658.4 820.9 658.4Q824 658.4 825.2 660.2Q827.2 661 827 664Q826.5 669.6 820.9 669.6Q815.3 669.6 815.3 664Z M818.5 659V669.4 M822.6 659V669.4"/>
<circle cx="809.7" cy="707.6" r="2.9" stroke-width="2.1"/>
<circle cx="811" cy="764" r="2.9" stroke-width="2.1"/>
<path d="M877.4 663L890.7 671.1L887.6 676.2L874.3 668.1Z M883.5 666.8L889 670.2L886.5 674.4L881 671Z"/><circle cx="885" cy="670.6" r="1.6"/>
<path d="M863.9 653.9C880 668 905 695 919.4 726.1S938 765 944.4 776.1"/>
</g>
</g>
<circle cx="798" cy="945" r="13.2" class="w"/><circle cx="798" cy="945" r="13.2"/><circle cx="798" cy="945" r="11.9"/><path d="M798 933V957 M784.8 930.3V952"/>
<path d="M866.5 926A7.5 7.5 0 0 1 880.8 917.5"/>

<path d="M855.6 753.1H900 M855.6 831.9H900 M902.2 756.9V828.8"/>
<path d="M829 753.1Q817 753.5 816.9 766V819Q817 831.5 829 831.9"/>
<path d="M830 755Q819 755.5 818.9 766V819Q819 829.5 830 830"/>
<path d="M831 757Q821.2 757.5 821.2 767V818Q821.2 827.5 831 828"/>
<g><path class="w" d="M829.2 748.8H853Q855 748.8 855 750.8V753.5999999999999Q855 755.5999999999999 853 755.5999999999999H840.2L835.2 758.0999999999999H829.2Q826.2 758.0999999999999 826.2 754.5999999999999V751.8Q826.2 748.8 829.2 748.8Z"/><path d="M829.2 748.8H853Q855 748.8 855 750.8V753.5999999999999Q855 755.5999999999999 853 755.5999999999999H840.2L835.2 758.0999999999999H829.2Q826.2 758.0999999999999 826.2 754.5999999999999V751.8Q826.2 748.8 829.2 748.8Z M843 748.8V746.3H850V748.8"/><path class="w" d="M903.6 749.4H926Q928 749.4 928 751.4V754.1999999999999Q928 756.1999999999999 926 756.1999999999999H914.6L909.6 758.6999999999999H903.6Q900.6 758.6999999999999 900.6 755.1999999999999V752.4Q900.6 749.4 903.6 749.4Z"/><path d="M903.6 749.4H926Q928 749.4 928 751.4V754.1999999999999Q928 756.1999999999999 926 756.1999999999999H914.6L909.6 758.6999999999999H903.6Q900.6 758.6999999999999 900.6 755.1999999999999V752.4Q900.6 749.4 903.6 749.4Z M917.5 749.4V746.9H923.8V749.4"/><path d="M825 731.2Q828 727 832.5 727.5Q840 731 846 730Q852.5 729.5 855 735Q856.5 739 856.2 748.8"/>
<path d="M911.2 749.4V738.8Q912 733 916 731.8Q919 731 922.5 731.2"/></g><g transform="translate(0 1585) scale(1 -1)"><path class="w" d="M829.2 748.8H853Q855 748.8 855 750.8V753.5999999999999Q855 755.5999999999999 853 755.5999999999999H840.2L835.2 758.0999999999999H829.2Q826.2 758.0999999999999 826.2 754.5999999999999V751.8Q826.2 748.8 829.2 748.8Z"/><path d="M829.2 748.8H853Q855 748.8 855 750.8V753.5999999999999Q855 755.5999999999999 853 755.5999999999999H840.2L835.2 758.0999999999999H829.2Q826.2 758.0999999999999 826.2 754.5999999999999V751.8Q826.2 748.8 829.2 748.8Z M843 748.8V746.3H850V748.8"/><path class="w" d="M903.6 749.4H926Q928 749.4 928 751.4V754.1999999999999Q928 756.1999999999999 926 756.1999999999999H914.6L909.6 758.6999999999999H903.6Q900.6 758.6999999999999 900.6 755.1999999999999V752.4Q900.6 749.4 903.6 749.4Z"/><path d="M903.6 749.4H926Q928 749.4 928 751.4V754.1999999999999Q928 756.1999999999999 926 756.1999999999999H914.6L909.6 758.6999999999999H903.6Q900.6 758.6999999999999 900.6 755.1999999999999V752.4Q900.6 749.4 903.6 749.4Z M917.5 749.4V746.9H923.8V749.4"/><path d="M825 731.2Q828 727 832.5 727.5Q840 731 846 730Q852.5 729.5 855 735Q856.5 739 856.2 748.8"/>
<path d="M911.2 749.4V738.8Q912 733 916 731.8Q919 731 922.5 731.2"/></g>
<path d="M850.2 761.5H858.8V768.8L862.5 771.9L880.6 772.2V775L867.5 775.4L858.8 776.2V787.1H850.2Z"/>
<circle cx="838.5" cy="792.5" r="5.6" stroke-width="1.6"/><circle cx="838.5" cy="792.5" r="3.4"/>
<path d="M837.6 790.5Q838.5 789.6 839.4 790.5V794.5Q838.5 795.4 837.6 794.5Z" stroke-width=".8"/>
<path d="M856.9 831.5V812Q857 810 859 810H884Q886.2 810 886.2 812V831.5"/>
<path d="M862 810.6H880" stroke-width="1.5"/>
<circle cx="853.1" cy="814.4" r="1.9" fill="#111"/><circle cx="853.1" cy="824.4" r="1.9" fill="#111"/><circle cx="890" cy="814.4" r="1.9" fill="#111"/><circle cx="890" cy="824.4" r="1.9" fill="#111"/>
<path d="M823 782.6H829.4 M823 784.4H829.4 M823 799.6H829.4 M823 801.4H829.4 M823.5 791L825.5 793.5L827.5 791 M828.5 792.5H829.5" stroke="#444" stroke-width=".9"/>
<path d="M878.8 784.4H897.5 M878.8 800.6H897.5 M892 783.2H894 M892 801.8H894" stroke="#444" stroke-width=".9"/>
<path d="M878.8 792.5H889.4" stroke="#333" stroke-width="1.9"/>
<path d="M892.5 791.3H897.5 M892.5 793.7H897.5" stroke="#333" stroke-width=".9"/>
<path d="M907.5 782.6H911.9 M907.5 784.4H911.9 M907.5 799.6H911.9 M907.5 801.4H911.9 M908 791L909.7 793.5L911.4 791" stroke="#444" stroke-width=".9"/>
<path d="M919.5 781.5H924.5 M920.5 781.5L922 779.5L923.5 781.5 M919.5 803.5H924.5 M920.5 803.5L922 805.5L923.5 803.5" stroke-width=".8"/>
<path d="M915.8 756.5V766 M917.3 756.5V766 M924.8 756.5V766 M926.3 756.5V766 M915.8 818V829 M917.3 818V829 M924.8 818V829 M926.3 818V829" stroke="#333" stroke-width="1"/>
<path d="M841.5 760V771.2 M842.6 760V771.2 M841.5 813.8V828.8 M842.6 813.8V828.8" stroke="#444" stroke-width=".8"/>
<path d="M822 761H841 M845 755.5H848 M845 829.5H848" stroke="#444" stroke-width=".8"/>
<path d="M860.5 760V765.5 M864 776.5V778 M866 776.5V778 M874.5 776.5V778 M876.5 776.5V778 M880.5 754.5V756.5 M880.5 761.5V763" stroke-width=".7"/>
<path d="M931.9 761.2V787H939.4V777H943.8 M935 787V800Q935 802 937 802.5L943.8 803.8 M931.9 761.2L943 776"/>
<path d="M943.8 811L936.5 822 M940 817L930.5 833"/>
<circle cx="886.2" cy="763.8" r="2.1" fill="#111" stroke-width=".8"/><circle cx="891.2" cy="761.2" r="2.1" fill="#111" stroke-width=".8"/><circle cx="895" cy="763.8" r="2.1" fill="#111" stroke-width=".8"/><circle cx="891.2" cy="767.5" r="2.1" fill="#111" stroke-width=".8"/><circle cx="893.8" cy="770.6" r="2.1" fill="#111" stroke-width=".8"/><circle cx="889" cy="765.5" r="2.1" fill="#111" stroke-width=".8"/><circle cx="928" cy="758.8" r="1.8" fill="#111" stroke-width=".8"/><circle cx="935" cy="813.8" r="1.8" fill="#111" stroke-width=".8"/><circle cx="933.8" cy="821.2" r="1.8" fill="#111" stroke-width=".8"/><path d="M933.5 809H937V826H933.5Z" stroke-width=".8"/>
</g>
<g id="topD" class="g">
<path d="M745.2 629.7Q768 634 782.7 651.2 M776.3 625.6L783.2 629.7"/><g transform="translate(0 1584.1) scale(1 -1)"><path d="M745.2 629.7Q768 634 782.7 651.2 M776.3 625.6L783.2 629.7"/></g>
<path d="M631.5 734.6L666.2 743.4Q670.6 744.8 669.6 749.2L662.8 783.2Q661.6 787.8 657.2 786.6L622.4 777.8Q618 776.4 619 772L626 738Q627.2 733.4 631.5 734.6Z"/>
<circle cx="632" cy="741.3" r="2.4" fill="#111"/><circle cx="663.3" cy="748.3" r="2.4" fill="#111"/><circle cx="625.3" cy="772.5" r="2.4" fill="#111"/><circle cx="656.3" cy="779.7" r="2.4" fill="#111"/>
<path d="M644.2 759.5L619.5 787" stroke-width="3.2"/><path d="M644.2 759.5L619.5 787" stroke-width="1.2" stroke="#fff"/>
<path d="M619.5 787L617.5 789.5" stroke-width="1.2"/>
<circle cx="644.2" cy="759.5" r="2.2" class="w"/><circle cx="644.2" cy="759.5" r="2.2"/>
<path d="M637 757.5L640.5 758.5 M637.5 759.8L640 760.4 M647.5 760.2L651 761.2 M648 762.4L650.5 763" stroke-width=".7"/>
<circle cx="646.3" cy="749.7" r=".6" fill="#000"/>
<text transform="translate(658.2 774.5) rotate(-77)" font-size="4.6" font-weight="bold" textLength="18" lengthAdjust="spacingAndGlyphs" stroke="none">KESSEL</text>
<path d="M675 757.5L670.8 773.3 M673 759.5L677 760.5 M672.5 761.8L675.5 762.5" stroke-width=".7"/>
<path d="M674.2 823.3Q674.2 826 675.8 827.5" stroke-width=".9"/><path d="M674.2 759.7Q674.2 757 675.8 755.5" stroke-width="0"/>
<circle cx="641.7" cy="808.3" r="12.2" stroke-width="1.8"/><circle cx="641.7" cy="808.3" r="9.6" stroke-width="1.3" stroke-dasharray="3 1"/><circle cx="641.7" cy="808.3" r="7" stroke-width="1.4"/><circle cx="641.7" cy="808.3" r="4.2" stroke-width="1.3"/>
<path d="M640.5 806V810.6 M642.9 806V810.6" stroke-width=".9"/>
<path d="M633 795.5Q629.5 797 631 800.5 M653 801.5Q657.5 805 654.5 809 M631.5 817Q630 821 634 822" stroke-width="1.5"/>
<circle cx="631.7" cy="797.8" r="2.1" fill="#111"/><circle cx="655.8" cy="805.8" r="2.1" fill="#111"/><circle cx="632.5" cy="820" r="2.1" fill="#111"/>
<path d="M631.7 797.8L630.5 812L632.5 820L645 822.5L655.8 805.8L645 795.5Z" stroke-width="1"/>
<circle cx="642" cy="845.8" r="14.6"/><circle cx="642" cy="845.8" r="12.4"/>
<path d="M594.2 723.3L600 725.5 M604.7 697.4L610.6 700 M594.5 861.2L599.5 859.5 M605.5 886.2L610.5 884.2 M789 592.7V595.3 M789.2 990V992.5" stroke-width="1.1"/>
<path d="M572 723.5L575.5 713" stroke-width="5.2"/><path d="M572 723.5L575.5 713" stroke-width="3" stroke="#fff"/>
<g stroke="#000" stroke-width=".25" font-weight="bold" font-size="5.2"><text transform="translate(593.3 745) rotate(97)" textLength="33" lengthAdjust="spacingAndGlyphs">350-010  &gt;PE&lt;</text><text transform="translate(588.5 799) rotate(86)" textLength="43.5" lengthAdjust="spacingAndGlyphs">Made in Germany</text></g><circle cx="590" cy="787.5" r="1.6" stroke-width=".8"/>
<g stroke-linecap="butt"><path d="M880 625.8L890 630.8" stroke-width="4.6" stroke="#111"/><path d="M880 625.8L890 630.8" stroke-width="1.2" stroke="#fff" stroke-dasharray="2.2 2.2" stroke-dashoffset="-1.5"/><path d="M892 633L902.5 639.2" stroke-width="4.6" stroke="#111"/><path d="M892 633L902.5 639.2" stroke-width="1.2" stroke="#fff" stroke-dasharray="2.2 2.2" stroke-dashoffset="-1.5"/><path d="M903.8 642L913.8 648.3" stroke-width="4.6" stroke="#111"/><path d="M903.8 642L913.8 648.3" stroke-width="1.2" stroke="#fff" stroke-dasharray="2.2 2.2" stroke-dashoffset="-1.5"/><path d="M914.6 652.5L924.2 659.2" stroke-width="4.6" stroke="#111"/><path d="M914.6 652.5L924.2 659.2" stroke-width="1.2" stroke="#fff" stroke-dasharray="2.2 2.2" stroke-dashoffset="-1.5"/><path d="M869.6 616.7L877.5 621.7L875 624.8L873 623.4" stroke-width="1.3"/><path d="M925.5 662.5L933.5 669.5 M927.5 666.5L931.5 663 M928.5 666.8L933.5 672" stroke-width="1.9"/><path d="M925.5 662.5L933.5 669.5 M927.5 666.5L931.5 663 M928.5 666.8L933.5 672" stroke-width=".6" stroke="#fff"/></g>
<path d="M938.6 677.5L951.8 694" stroke-width="5.6"/><path d="M938.6 677.5L951.8 694" stroke-width="3.2" stroke="#fff" stroke-dasharray="3.2 2" stroke-linecap="butt"/>
</g>
<g id="topPipes" class="g">
<path d="M552.8 761H535.7V824H547 M538.3 761V824"/>
<path class="w" d="M1028.8 761.2H1035V823.8H1028.8Z"/>
<path d="M1028.8 774.2V761.2H1035V774.2 M1028.8 812.5V823.8H1035V812.5"/>
<path class="w" d="M989.5 774.2H1081.2V812.5H989.5Z"/>
<path d="M989.5 774.2H1081.2V812.5H989.5Z M1022 774.2V812.5 M1078.8 774.2V812.5 M987.5 792V795"/>
</g>
</g>
</svg>
</body></html>
